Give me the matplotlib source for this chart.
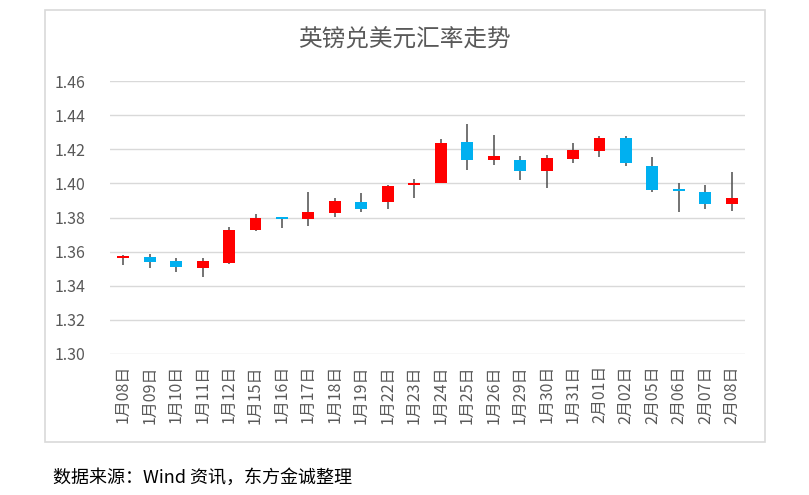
import matplotlib.pyplot as plt
from matplotlib.patches import Rectangle

plt.rcParams['font.family'] = ['Noto Sans CJK SC', 'DejaVu Sans']

dates = ['1月08日', '1月09日', '1月10日', '1月11日', '1月12日', '1月15日', '1月16日',
         '1月17日', '1月18日', '1月19日', '1月22日', '1月23日', '1月24日', '1月25日',
         '1月26日', '1月29日', '1月30日', '1月31日', '2月01日', '2月02日', '2月05日',
         '2月06日', '2月07日', '2月08日']
opens = [1.3560, 1.3571, 1.3544, 1.3505, 1.3533, 1.3724, 1.3795, 1.3792, 1.3825, 1.3892,
         1.3893, 1.3990, 1.4001, 1.4241, 1.4136, 1.4137, 1.4073, 1.4145, 1.4192, 1.4268,
         1.4104, 1.3962, 1.3952, 1.3882]
highs = [1.3583, 1.3587, 1.3564, 1.3560, 1.3743, 1.3823, 1.3805, 1.3948, 1.3913, 1.3946,
         1.3989, 1.4026, 1.4260, 1.4348, 1.4284, 1.4159, 1.4167, 1.4235, 1.4278, 1.4278,
         1.4157, 1.4003, 1.3991, 1.4065]
lows = [1.3523, 1.3505, 1.3482, 1.3454, 1.3530, 1.3722, 1.3741, 1.3753, 1.3802, 1.3835,
        1.3852, 1.3917, 1.4000, 1.4079, 1.4106, 1.4020, 1.3975, 1.4118, 1.4157, 1.4102,
        1.3952, 1.3835, 1.3849, 1.3841]
closes = [1.3570, 1.3539, 1.3507, 1.3544, 1.3728, 1.3796, 1.3790, 1.3831, 1.3895, 1.3849,
          1.3985, 1.4005, 1.4239, 1.4137, 1.4161, 1.4073, 1.4149, 1.4196, 1.4268, 1.4118,
          1.3960, 1.3956, 1.3882, 1.3915]
yticks = [1.30, 1.32, 1.34, 1.36, 1.38, 1.40, 1.42, 1.44, 1.46]

up_color = '#FF0000'
down_color = '#00B0F0'
gray = '#595959'

fig = plt.figure(figsize=(8.09, 4.95), dpi=100)
fig.patches.append(Rectangle((45 / 809, 1 - 442 / 495), 720 / 809, 432 / 495,
                             transform=fig.transFigure, fill=False,
                             edgecolor='#d9d9d9', linewidth=1.2))

ax = fig.add_axes([110 / 809, 1 - 354 / 495, 635 / 809, 273 / 495])
x = list(range(len(dates)))

# wicks first, bodies on top
ax.vlines(x, lows, highs, color='#4d4d4d', linewidth=1.1, zorder=2)
for i in x:
    o, c = opens[i], closes[i]
    color = up_color if c >= o else down_color
    h = max(abs(c - o), 0.0012)
    ax.bar(i, h, bottom=min(o, c), width=0.45, color=color, zorder=3)

ax.set_xlim(-0.5, len(dates) - 0.5)
ax.set_ylim(1.30, 1.46)
ax.set_yticks(yticks)
ax.set_yticklabels([f'{v:.2f}' for v in yticks], fontsize=11.5, color=gray)
ax.set_xticks(x)
ax.set_xticklabels(dates, rotation=90, fontsize=11.5, color=gray)
ax.tick_params(axis='y', length=0, pad=18)
ax.tick_params(axis='x', length=0, pad=8)
ax.grid(axis='y', color='#d9d9d9', linewidth=1)
ax.set_axisbelow(True)
for s in ax.spines.values():
    s.set_visible(False)

fig.text(0.4994, 1 - 40 / 495, '英镑兑美元汇率走势', ha='center', va='center',
         fontsize=17, color=gray)
fig.text(53 / 809, 1 - 478 / 495, '数据来源：Wind 资讯，东方金诚整理', ha='left',
         va='center', fontsize=13, color='black')

fig.savefig('out.png', dpi=100)
